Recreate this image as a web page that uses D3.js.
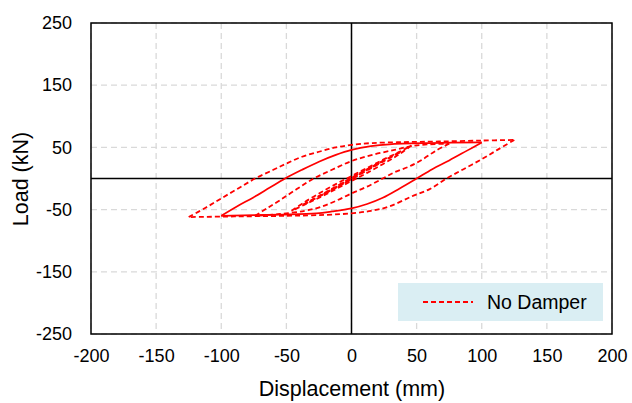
<!DOCTYPE html>
<html><head><meta charset="utf-8">
<script src="https://cdn.jsdelivr.net/npm/d3@7"></script>
<style>body{margin:0;background:#fff}svg{display:block}text{font-family:"Liberation Sans",Arial,sans-serif;fill:#000}</style>
</head><body><svg id="c" width="632" height="403"></svg>
<script>
// ---- data (displacement mm, load kN) ----
const xTicks = [-200,-150,-100,-50,0,50,100,150,200];
const yTicks = [-250,-150,-50,50,150,250];
const yGrid = [-250,-200,-150,-100,-50,0,50,100,150,200,250];
const seriesName = "No Damper";

const loop125Up = [[-125,-62],[-112,-47],[-100,-32],[-87,-16],[-74,0],[-60,14],[-50,24],[-38,35],[-25,43],[-12,50],[0,54],[16,57],[40,58.5],[67,59.5],[100,61],[125,62]];
const loop125Down = [[125,62],[112,46],[100,31],[86,15],[73,0],[60,-17],[46,-29],[29,-45],[15,-52],[0,-56],[-20,-58.5],[-50,-60],[-90,-61],[-125,-62]];
const loop100Up = [[-100,-60],[-88,-45],[-75,-30],[-63,-15],[-51,0],[-38,14],[-25,27],[-12,38],[0,46],[15,52],[29,55],[60,57],[100,58]];
const loop100Down = [[100,58],[88,44],[75,29],[62,15],[50,0],[37,-16],[24,-31],[12,-41],[0,-48],[-15,-53],[-27,-56],[-55,-58],[-100,-60]];
const loop75Up = [[-74,-60],[-65,-48],[-55,-35],[-42,-17],[-29,0],[-15,14],[0,28],[16,38],[33,46],[46,52],[60,55],[75,56]];
const loop75Down = [[75,56],[65,45],[54,30],[44,19],[33,10],[24,0],[12,-13],[0,-24],[-12,-36],[-24,-46],[-36,-52],[-55,-57],[-74,-60]];
const loop50Up = [[-46,-52],[-36,-38],[-24,-23],[-12,-9],[0,4],[12,17],[24,30],[36,42],[46,53]];
const loop50Down = [[46,53],[36,38],[24,23],[12,9],[0,-4],[-12,-17],[-24,-30],[-36,-42],[-46,-52]];
const loop37Up = [[-37,-42],[-24,-27],[-12,-13],[0,1],[12,15],[24,28],[37,42]];
const loop37Down = [[37,42],[24,27],[12,13],[0,-1],[-12,-15],[-24,-28],[-37,-42]];
const loop25Up = [[-25,-29],[-12,-14],[0,1],[12,15],[25,29]];
const loop25Down = [[25,29],[12,14],[0,-1],[-12,-15],[-25,-29]];

const dashedBranches = [loop125Up,loop125Down,loop75Up,loop75Down,loop50Up,loop50Down,loop37Up,loop37Down,loop25Up,loop25Down];
const solidBranches = [loop100Up,loop100Down];

// ---- layout ----
const L=91,R=612,T=23,B=334;
const svg=d3.select("#c");
const x=d3.scaleLinear().domain([-200,200]).range([L,R]);
const y=d3.scaleLinear().domain([-250,250]).range([B,T]);

// grid
const g=svg.append("g");
g.selectAll(".vg").data(xTicks).join("line")
 .attr("x1",d=>x(d)).attr("x2",d=>x(d)).attr("y1",T).attr("y2",B)
 .attr("stroke","#d9d9d9").attr("stroke-width",1.3).attr("stroke-dasharray","6,4");
g.selectAll(".hg").data(yGrid.filter(v=>v%100!==0)).join("line")
 .attr("x1",L).attr("x2",R).attr("y1",d=>y(d)).attr("y2",d=>y(d))
 .attr("stroke","#d9d9d9").attr("stroke-width",1.3).attr("stroke-dasharray","6,4");

// zero axes
svg.append("line").attr("x1",L).attr("x2",R).attr("y1",y(0)).attr("y2",y(0)).attr("stroke","#000").attr("stroke-width",1.5);
svg.append("line").attr("x1",x(0)).attr("x2",x(0)).attr("y1",T).attr("y2",B).attr("stroke","#000").attr("stroke-width",1.5);

// data
const line=d3.line().x(d=>x(d[0])).y(d=>y(d[1])).curve(d3.curveCatmullRom.alpha(0.5));
svg.append("g").selectAll("path").data(dashedBranches).join("path")
 .attr("d",line).attr("fill","none").attr("stroke","#ff0000").attr("stroke-width",1.8).attr("stroke-dasharray","5,3");
svg.append("g").selectAll("path").data(solidBranches).join("path")
 .attr("d",line).attr("fill","none").attr("stroke","#ff0000").attr("stroke-width",1.7);

// border
svg.append("rect").attr("x",L).attr("y",T).attr("width",R-L).attr("height",B-T).attr("fill","none").attr("stroke","#000").attr("stroke-width",1.5);

// axes labels (via d3 axes, styled)
const fmt=d=>String(d);
const xa=svg.append("g").attr("transform",`translate(0,${B})`).call(d3.axisBottom(x).tickValues(xTicks).tickSize(0).tickPadding(15).tickFormat(fmt));
xa.select(".domain").remove();
xa.selectAll("text").attr("font-size",18).style("font-family","Liberation Sans, Arial, sans-serif");
const ya=svg.append("g").attr("transform",`translate(${L},0)`).call(d3.axisLeft(y).tickValues(yTicks).tickSize(0).tickPadding(19).tickFormat(fmt));
ya.select(".domain").remove();
ya.selectAll("text").attr("font-size",18).style("font-family","Liberation Sans, Arial, sans-serif");

svg.append("text").attr("x",352).attr("y",396).attr("text-anchor","middle").attr("font-size",21.5).text("Displacement (mm)");
svg.append("text").attr("transform","translate(28,179) rotate(-90)").attr("text-anchor","middle").attr("font-size",21.5).text("Load (kN)");

// legend
const lg=svg.append("g");
lg.append("rect").attr("x",398).attr("y",283).attr("width",205).attr("height",38).attr("fill","#daeef3");
lg.append("line").attr("x1",423).attr("x2",473).attr("y1",302).attr("y2",302).attr("stroke","#ff0000").attr("stroke-width",1.8).attr("stroke-dasharray","5,3");
lg.append("text").attr("x",487).attr("y",309).attr("font-size",19.5).text(seriesName);
</script></body></html>
